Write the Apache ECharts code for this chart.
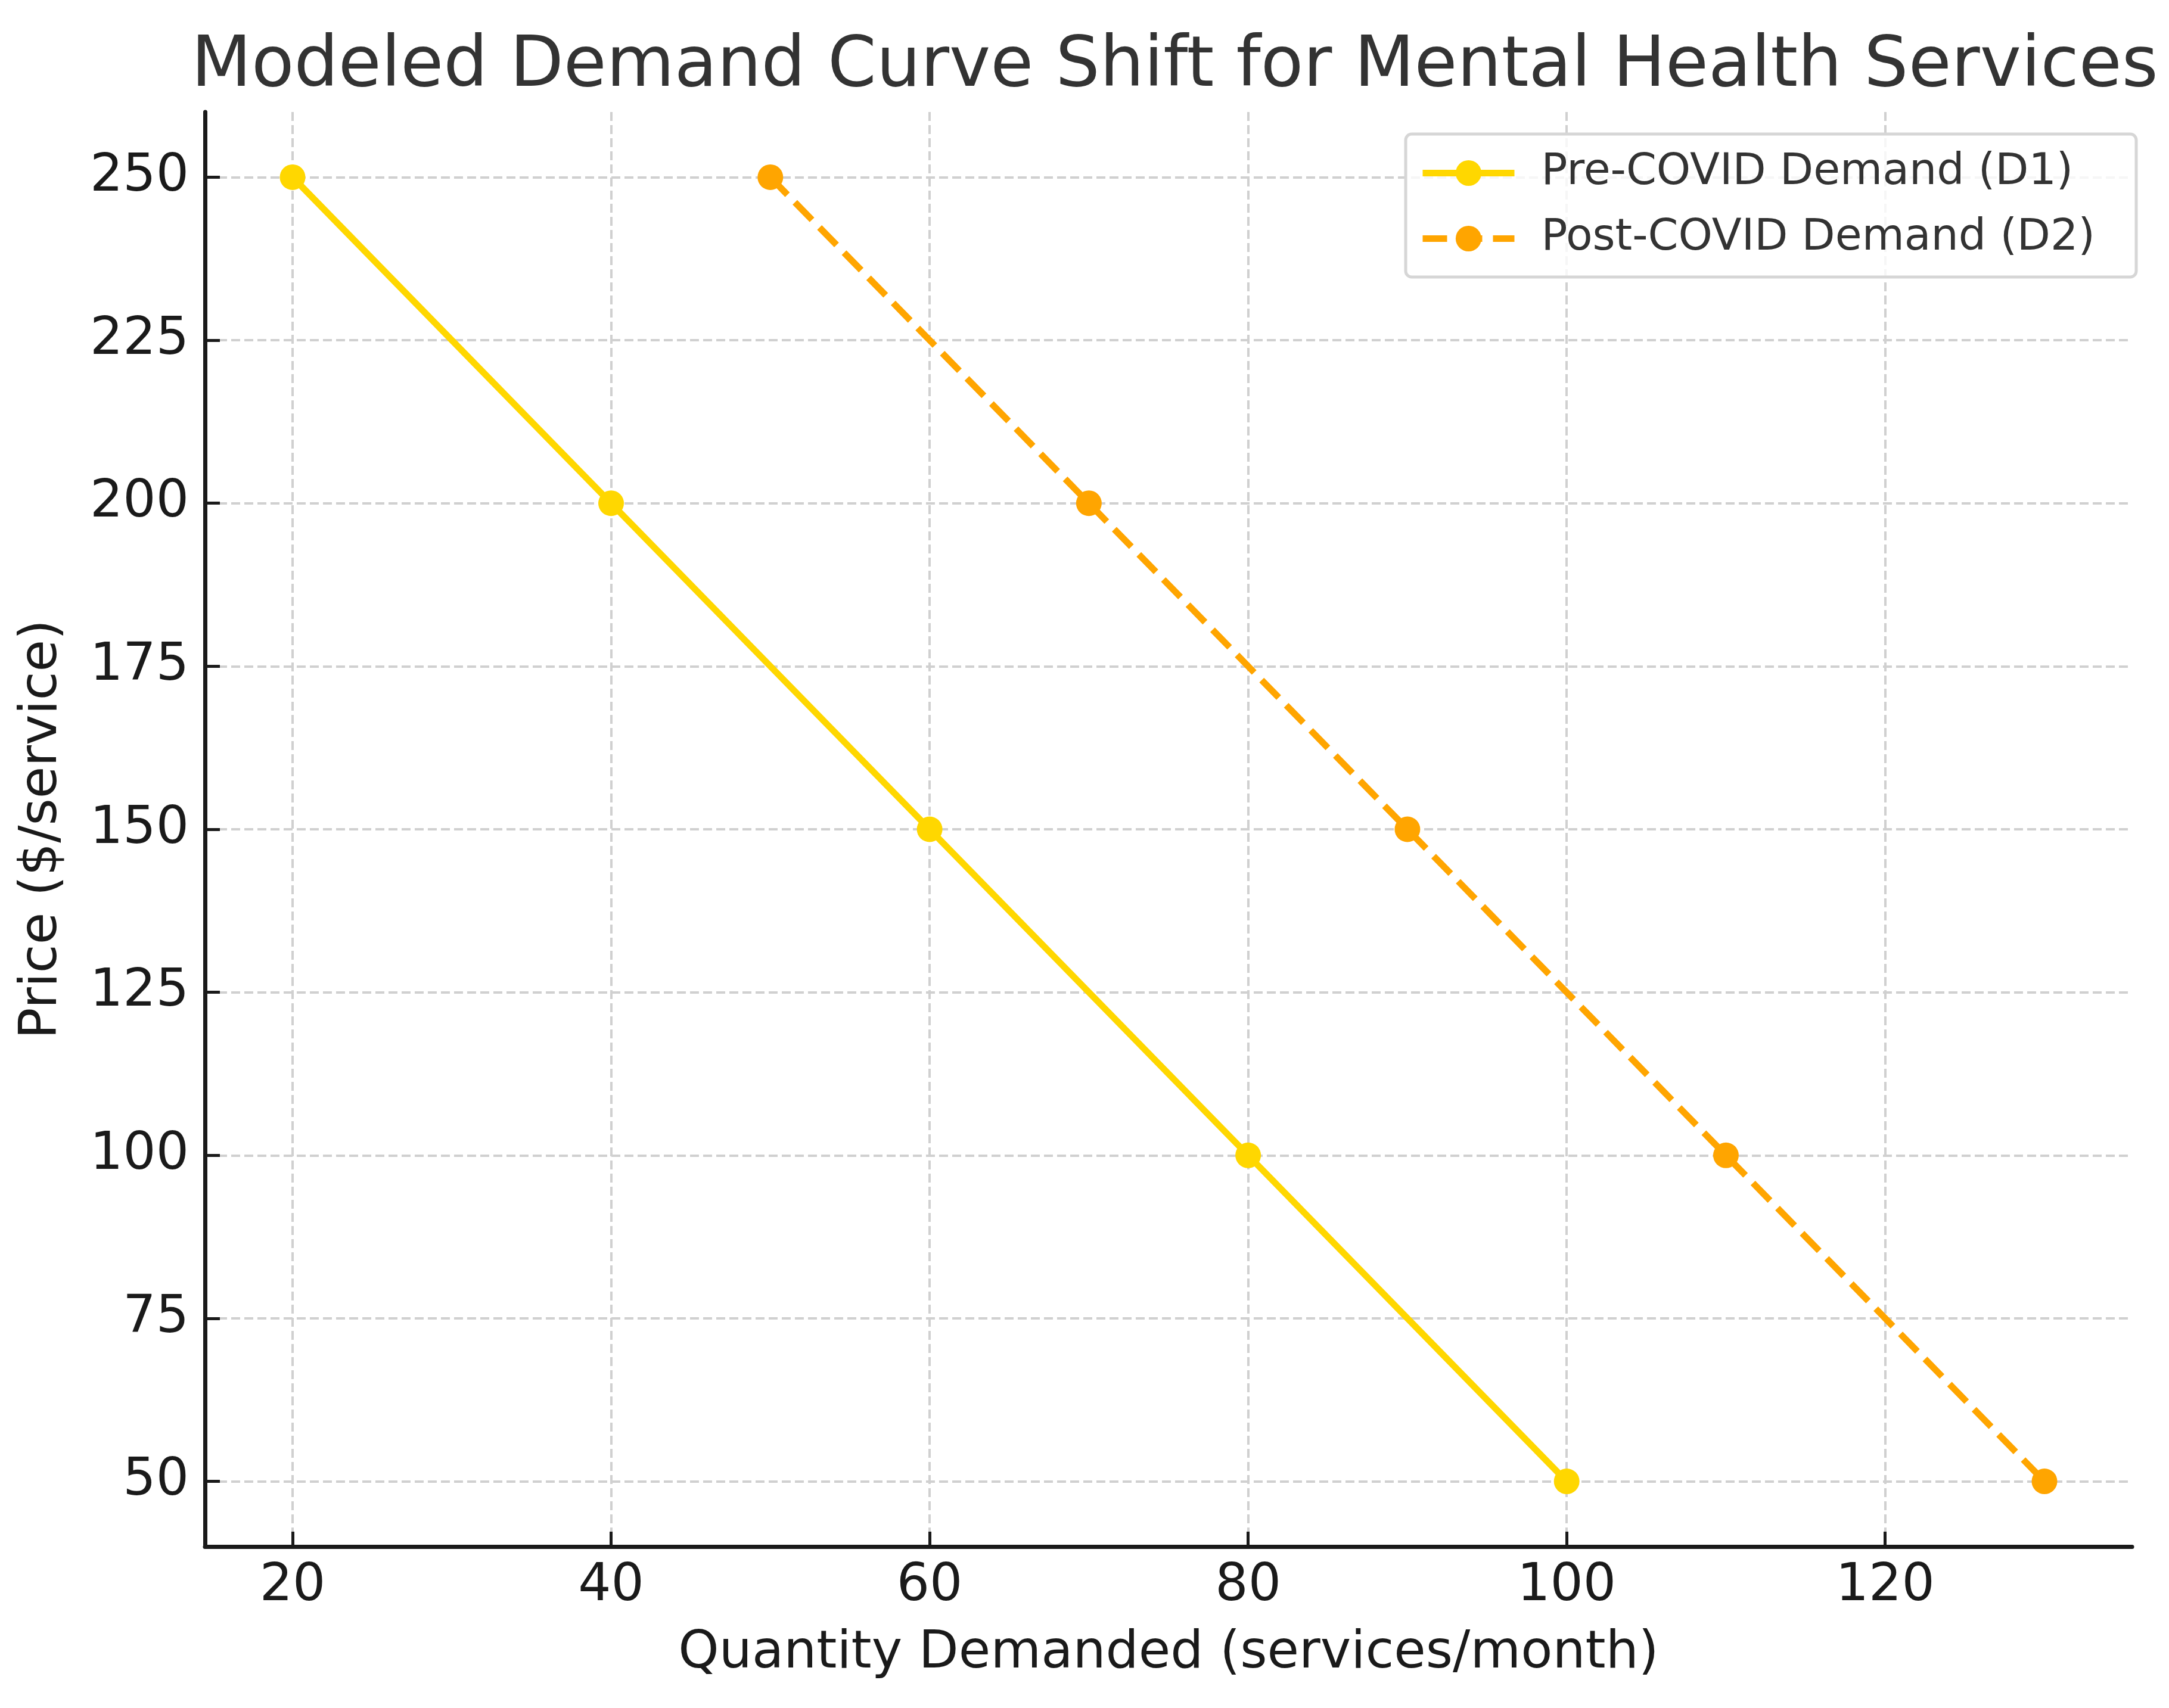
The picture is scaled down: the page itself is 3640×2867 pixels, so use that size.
<!DOCTYPE html>
<html>
<head>
<meta charset="utf-8">
<script src="https://cdn.jsdelivr.net/npm/echarts@6/dist/echarts.min.js"></script>
<style>
html,body{margin:0;padding:0;background:#fff;}
#chart{width:3640px;height:2867px;}
</style>
</head>
<body>
<div id="chart"></div>
<script>
// ---- data ----
const titleText = 'Modeled Demand Curve Shift for Mental Health Services';
const xName = 'Quantity Demanded (services/month)';
const yName = 'Price ($/service)';
const d1Name = 'Pre-COVID Demand (D1)';
const d2Name = 'Post-COVID Demand (D2)';
const prices = [250, 200, 150, 100, 50];
const d1Quantity = [20, 40, 60, 80, 100];
const d2Quantity = [50, 70, 90, 110, 130];
const xTicks = [20, 40, 60, 80, 100, 120];
const yTicks = [50, 75, 100, 125, 150, 175, 200, 225, 250];

const FONT = 'DejaVu Sans';
const chart = echarts.init(document.getElementById('chart'), null, {renderer: 'canvas'});

const d1Data = d1Quantity.map((q, i) => [q, prices[i]]);
const d2Data = d2Quantity.map((q, i) => [q, prices[i]]);

const gridLine = {show: true, lineStyle: {color: '#d0d0d0', width: 4, type: [15, 7]}};
const axisLineStyle = {show: true, onZero: false, lineStyle: {color: '#1a1a1a', width: 7}};

chart.setOption({
  animation: false,
  backgroundColor: '#ffffff',
  title: {
    text: titleText,
    left: 321,
    top: 55,
    padding: 0,
    textStyle: {fontFamily: FONT, fontSize: 117, fontWeight: 'normal', color: '#333333'}
  },
  legend: {
    left: 2359,
    top: 225,
    orient: 'vertical',
    padding: [29, 69, 28, 23],
    itemWidth: 154,
    itemHeight: 54,
    itemGap: 37,
    backgroundColor: 'rgba(255,255,255,0.8)',
    borderColor: '#d6d6d6',
    borderWidth: 5,
    borderRadius: 10,
    lineStyle: {width: 11},
    textStyle: {fontFamily: FONT, fontSize: 73, color: '#333333', padding: [0, 0, 0, 40]},
    data: [d1Name, d2Name]
  },
  grid: {left: 344, right: 62, top: 188, bottom: 271, containLabel: false},
  xAxis: {
    type: 'value',
    min: 14.5,
    max: 135.5,
    name: xName,
    nameLocation: 'middle',
    nameGap: 137,
    nameTextStyle: {fontFamily: FONT, fontSize: 87, color: '#1a1a1a'},
    axisLine: axisLineStyle,
    axisTick: {show: true, inside: true, length: 25, lineStyle: {color: '#1a1a1a', width: 5}, customValues: xTicks},
    axisLabel: {show: true, margin: 24, fontFamily: FONT, fontSize: 87, color: '#1a1a1a', customValues: xTicks},
    splitLine: gridLine
  },
  yAxis: {
    type: 'value',
    min: 40,
    max: 260,
    name: yName,
    nameLocation: 'middle',
    nameGap: 229,
    nameTextStyle: {fontFamily: FONT, fontSize: 87, color: '#1a1a1a'},
    axisLine: axisLineStyle,
    axisTick: {show: true, inside: true, length: 25, lineStyle: {color: '#1a1a1a', width: 5}, customValues: yTicks},
    axisLabel: {show: true, margin: 27, fontFamily: FONT, fontSize: 87, color: '#1a1a1a', customValues: yTicks},
    splitLine: gridLine
  },
  series: [
    {
      name: d1Name,
      type: 'line',
      data: d1Data,
      symbol: 'circle',
      symbolSize: 43,
      color: '#FFD700',
      lineStyle: {color: '#FFD700', width: 11, type: 'solid'},
      itemStyle: {color: '#FFD700'},
      z: 3
    },
    {
      name: d2Name,
      type: 'line',
      data: d2Data,
      symbol: 'circle',
      symbolSize: 43,
      color: '#FFA500',
      lineStyle: {color: '#FFA500', width: 11, type: [41, 18]},
      itemStyle: {color: '#FFA500'},
      z: 3
    }
  ]
});
</script>
</body>
</html>
